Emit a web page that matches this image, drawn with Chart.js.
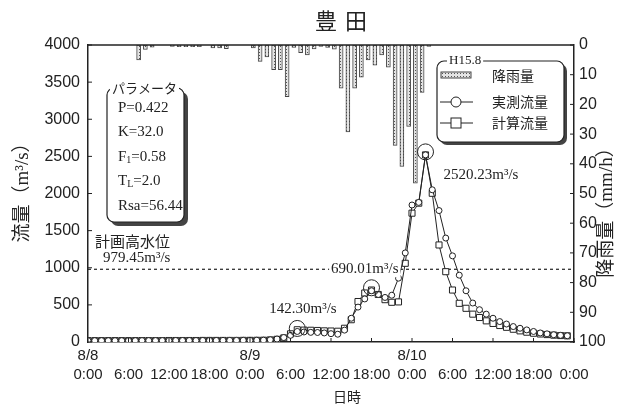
<!DOCTYPE html>
<html>
<head>
<meta charset="utf-8">
<script src="https://cdn.jsdelivr.net/npm/chart.js@4.4.1/dist/chart.umd.min.js"></script>
<style>
  html, body { margin: 0; padding: 0; background: #fff; }
  #wrap { width: 626px; height: 411px; }
</style>
</head>
<body>
<div id="wrap"><canvas id="hydroChart" width="626" height="411"></canvas></div>
<script>
// hourly values from 8/8 0:00 (index = hour)
const rain = [
  0, 0, 0, 0, 0, 0, 0, 5, 1.5, 0.7,
  0, 0, 0.5, 0.6, 0.6, 0.6, 0.6, 0, 1, 1,
  1.2, 0, 0, 0, 1, 5.5, 4, 8.3, 8.3, 17.4,
  0.8, 2.6, 3.3, 1.3, 0.5, 0.8, 1.4, 14.5, 29.3, 14.5,
  10.8, 5, 6.8, 3.3, 7.5, 33.8, 40.9, 27.4, 46.5, 16,
  0.5, 0, 0, 0, 0, 0, 0, 0, 0, 0,
  0, 0, 0, 0, 0, 0, 0, 0, 0, 0,
  0, 0
]
const observed = [
  18, 18, 18, 18, 18, 18, 18, 18, 19, 19,
  19, 19, 20, 20, 20, 20, 20, 21, 21, 21,
  22, 22, 22, 23, 23, 24, 25, 30, 40, 60,
  90, 142, 135, 130, 128, 122, 112, 105, 160, 320,
  470, 580, 690, 640, 600, 630, 860, 1200, 1845, 1880,
  2520, 2050, 1770, 1400, 1160, 900, 690, 525, 435, 375,
  320, 275, 242, 208, 185, 163, 142, 122, 110, 98,
  90, 84
]
const computed = [
  18, 18, 18, 18, 18, 18, 18, 18, 19, 19,
  19, 19, 20, 20, 20, 20, 20, 21, 21, 21,
  21, 21, 21, 22, 22, 23, 24, 28, 36, 55,
  110, 165, 160, 158, 155, 150, 148, 145, 185, 300,
  545, 660, 700, 640, 570, 535, 540, 1060, 1735, 1870,
  2520, 2003, 1307, 947, 700, 521, 454, 375, 330, 285,
  250, 222, 198, 172, 150, 132, 118, 108, 100, 92,
  87, 83
]
const timeLabels = ['0:00', '6:00', '12:00', '18:00', '0:00', '6:00', '12:00', '18:00', '0:00', '6:00', '12:00', '18:00', '0:00']
const dateLabels = ['8/8', '', '', '', '8/9', '', '', '', '8/10', '', '', '', '']
const params = [['P', '', '=0.422'], ['K', '', '=32.0'], ['F', '1', '=0.58'], ['T', 'L', '=2.0'], ['Rsa', '', '=56.44']]
const planFlow = 979.45
const peaks = [{ hour: 31, text: '142.30' }, { hour: 42, text: '690.01' }, { hour: 50, text: '2520.23' }]

const ink = '#222'
const serif = '"Liberation Serif", "Noto Sans CJK JP", serif'
const jp = '"Noto Sans CJK JP", sans-serif'

// dotted fill for the rain bars
const pc = document.createElement('canvas')
pc.width = 3; pc.height = 3
const pctx = pc.getContext('2d')
pctx.fillStyle = '#e4e4e4'; pctx.fillRect(0, 0, 3, 3)
pctx.fillStyle = '#555'; pctx.fillRect(1, 1, 1, 1)
const rainFill = pctx.createPattern(pc, 'repeat')

function roundBox(ctx, x, y, w, h, r, shadow) {
  ctx.save()
  ctx.fillStyle = '#444'
  ctx.beginPath(); ctx.roundRect(x + shadow, y + shadow, w, h, r); ctx.fill()
  ctx.fillStyle = '#fff'; ctx.strokeStyle = ink; ctx.lineWidth = 1.2
  ctx.beginPath(); ctx.roundRect(x, y, w, h, r); ctx.fill(); ctx.stroke()
  ctx.restore()
}

function label(ctx, s, x, y, font, align, bg) {
  ctx.save()
  ctx.font = font
  ctx.textAlign = align || 'left'
  ctx.textBaseline = 'middle'
  if (bg) {
    const w = ctx.measureText(s).width
    const x0 = align === 'right' ? x - w : align === 'center' ? x - w / 2 : x
    ctx.fillStyle = '#fff'
    ctx.fillRect(x0 - 2, y - 8, w + 4, 16)
  }
  ctx.fillStyle = ink
  ctx.fillText(s, x, y)
  ctx.restore()
}

const extras = {
  id: 'extras',
  beforeDatasetsDraw(chart) {
    const { ctx, chartArea: a, scales: { y } } = chart
    const yp = y.getPixelForValue(planFlow)
    ctx.save()
    ctx.setLineDash([3, 3]); ctx.strokeStyle = ink; ctx.lineWidth = 1.2
    ctx.beginPath(); ctx.moveTo(a.left, yp); ctx.lineTo(a.right, yp); ctx.stroke()
    ctx.restore()
  },
  afterDraw(chart) {
    const { ctx, chartArea: a, scales: { x, y, y2 } } = chart
    ctx.save()
    // frame top + inward ticks
    ctx.strokeStyle = ink; ctx.lineWidth = 1.5
    ctx.beginPath(); ctx.moveTo(a.left, a.top); ctx.lineTo(a.right, a.top); ctx.stroke()
    ctx.lineWidth = 1
    ctx.beginPath()
    y.ticks.forEach(t => { const p = y.getPixelForValue(t.value); ctx.moveTo(a.left, p); ctx.lineTo(a.left + 4, p) })
    y2.ticks.forEach(t => { const p = y2.getPixelForValue(t.value); ctx.moveTo(a.right, p); ctx.lineTo(a.right - 4, p) })
    x.ticks.forEach(t => { const p = x.getPixelForValue(t.value); ctx.moveTo(p, a.bottom); ctx.lineTo(p, a.bottom - 4) })
    ctx.stroke()
    ctx.restore()

    // title
    label(ctx, '豊', 326, 21, '22px ' + jp, 'center')
    label(ctx, '田', 356, 21, '22px ' + jp, 'center')
    label(ctx, '日時', 347, 397, '14px ' + jp, 'center')

    // axis titles, rotated
    ctx.save()
    ctx.translate(23, 188); ctx.rotate(-Math.PI / 2)
    label(ctx, '流量（m³/s）', 0, 0, '19px ' + serif, 'center')
    ctx.restore()
    ctx.save()
    ctx.translate(607, 208); ctx.rotate(-Math.PI / 2)
    label(ctx, '降雨量（mm/h）', 0, 0, '19px ' + serif, 'center')
    ctx.restore()

    // peak circles and values
    ctx.save()
    ctx.strokeStyle = ink; ctx.lineWidth = 1
    peaks.forEach(pk => {
      const px = x.getPixelForValue(pk.hour), py = y.getPixelForValue(observed[pk.hour]) - 3
      ctx.beginPath(); ctx.arc(px, py, 8, 0, Math.PI * 2); ctx.stroke()
    })
    ctx.restore()
    const p0 = peaks[0], p1 = peaks[1], p2 = peaks[2]
    label(ctx, p0.text + 'm³/s', x.getPixelForValue(p0.hour) - 28, y.getPixelForValue(observed[p0.hour]) - 22, '15px ' + serif, 'left')
    label(ctx, p1.text + 'm³/s', x.getPixelForValue(p1.hour) + 27, y.getPixelForValue(planFlow), '15px ' + serif, 'right', true)
    label(ctx, p2.text + 'm³/s', x.getPixelForValue(p2.hour) + 18, y.getPixelForValue(observed[p2.hour]) + 20, '15px ' + serif, 'left')

    // plan high water level
    label(ctx, '計画高水位', 95, 241, '15px ' + jp, 'left')
    label(ctx, planFlow.toFixed(2) + 'm³/s', 103, 258, '15px ' + serif, 'left')

    // parameter box
    roundBox(ctx, 107, 88, 77, 134, 7, 4)
    label(ctx, 'パラメータ', 112, 88, '13px ' + jp, 'left', true)
    params.forEach((p, i) => {
      const ly = 108 + i * 24.5
      ctx.save()
      ctx.fillStyle = ink; ctx.textBaseline = 'middle'
      ctx.font = '15px ' + serif
      let cx = 118
      ctx.fillText(p[0], cx, ly); cx += ctx.measureText(p[0]).width
      if (p[1]) { ctx.font = '10px ' + serif; ctx.fillText(p[1], cx, ly + 3); cx += ctx.measureText(p[1]).width; ctx.font = '15px ' + serif }
      ctx.fillText(p[2], cx, ly)
      ctx.restore()
    })

    // legend box
    roundBox(ctx, 437, 61, 127, 81, 7, 3)
    label(ctx, 'H15.8', 449, 61, '13px ' + serif, 'left', true)
    ctx.save()
    ctx.fillStyle = rainFill; ctx.strokeStyle = '#444'; ctx.lineWidth = 1
    ctx.fillRect(441, 72, 30, 6); ctx.strokeRect(441, 72, 30, 6)
    ctx.strokeStyle = ink
    ctx.beginPath(); ctx.moveTo(440, 102); ctx.lineTo(473, 102); ctx.moveTo(440, 123); ctx.lineTo(473, 123); ctx.stroke()
    ctx.fillStyle = '#fff'
    ctx.beginPath(); ctx.arc(456, 102, 5, 0, Math.PI * 2); ctx.fill(); ctx.stroke()
    ctx.fillRect(451, 118, 10, 10); ctx.strokeRect(451, 118, 10, 10)
    ctx.restore()
    label(ctx, '降雨量', 492, 76, '14px ' + jp, 'left')
    label(ctx, '実測流量', 492, 102, '14px ' + jp, 'left')
    label(ctx, '計算流量', 492, 123, '14px ' + jp, 'left')
  }
}

const ctx = document.getElementById('hydroChart').getContext('2d')

new Chart(ctx, {
  type: 'line',
  data: {
    datasets: [
      {
        type: 'bar',
        label: '降雨量',
        data: rain.map((v, i) => ({ x: i + 0.5, y: v })).filter(p => p.y > 0),
        yAxisID: 'y2',
        backgroundColor: rainFill,
        borderColor: '#444',
        borderWidth: 1,
        borderSkipped: false,
        barThickness: 4,
        order: 3
      },
      {
        label: '計算流量',
        data: computed.map((v, i) => ({ x: i, y: v })),
        yAxisID: 'y',
        borderColor: ink,
        borderWidth: 1,
        pointStyle: 'rect',
        pointRadius: 4.3,
        pointBackgroundColor: '#fff',
        pointBorderColor: ink,
        pointBorderWidth: 1,
        tension: 0,
        order: 2
      },
      {
        label: '実測流量',
        data: observed.map((v, i) => ({ x: i, y: v })),
        yAxisID: 'y',
        borderColor: ink,
        borderWidth: 1,
        pointStyle: 'circle',
        pointRadius: 3,
        pointBackgroundColor: '#fff',
        pointBorderColor: ink,
        pointBorderWidth: 1,
        tension: 0,
        order: 1
      }
    ]
  },
  options: {
    responsive: false,
    animation: false,
    layout: { padding: { top: 45, left: 0, right: 0, bottom: 0 } },
    plugins: {
      legend: { display: false },
      title: { display: false },
      tooltip: { enabled: false }
    },
    scales: {
      x: {
        type: 'linear',
        min: 0,
        max: 72,
        offset: false,
        grid: { display: false, drawTicks: false },
        border: { display: true, color: ink, width: 1.5 },
        ticks: {
          stepSize: 6,
          autoSkip: false,
          maxRotation: 0,
          padding: 4,
          color: ink,
          font: { family: '"Liberation Sans", sans-serif', size: 15, lineHeight: 1.3 },
          callback: v => [dateLabels[v / 6], timeLabels[v / 6]]
        },
        afterFit: s => { s.height = 69 }
      },
      y: {
        position: 'left',
        min: 0,
        max: 4000,
        grid: { display: false, drawTicks: false },
        border: { display: true, color: ink, width: 1.5 },
        ticks: {
          stepSize: 500,
          padding: 8,
          color: ink,
          font: { family: '"Liberation Sans", sans-serif', size: 16 },
          callback: v => String(v)
        },
        afterFit: s => { s.width = 88 }
      },
      y2: {
        position: 'right',
        reverse: true,
        min: 0,
        max: 100,
        grid: { display: false, drawTicks: false },
        border: { display: true, color: ink, width: 1.5 },
        ticks: {
          stepSize: 10,
          padding: 5,
          color: ink,
          font: { family: '"Liberation Sans", sans-serif', size: 16 },
          callback: v => String(v)
        },
        afterFit: s => { s.width = 52 }
      }
    }
  },
  plugins: [extras]
})
</script>
</body>
</html>
